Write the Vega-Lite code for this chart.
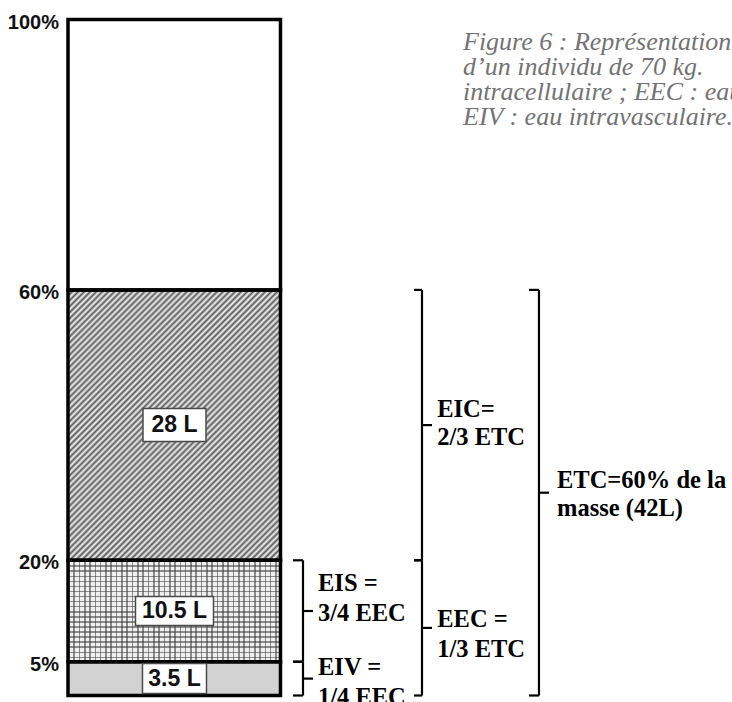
{
  "$schema": "https://vega.github.io/schema/vega-lite/v6.json",
  "width": 670,
  "height": 702,
  "padding": {"left": 62, "top": 0, "right": 0, "bottom": 0},
  "autosize": {"type": "none"},
  "background": "white",
  "config": {"view": {"stroke": null}, "font": "Liberation Sans"},
  "datasets": {
    "segments": [
      {"comp": "EIV", "lo": 0, "hi": 5, "volume": "3.5 L"},
      {"comp": "EIS", "lo": 5, "hi": 20, "volume": "10.5 L"},
      {"comp": "EIC", "lo": 20, "hi": 60, "volume": "28 L"},
      {"comp": "reste", "lo": 60, "hi": 100, "volume": ""}
    ],
    "brackets": [
      {"name": "EIV", "level": 1, "lo": 0, "hi": 5, "label": "EIV =\n1/4 EEC"},
      {"name": "EIS", "level": 1, "lo": 5, "hi": 20, "label": "EIS =\n3/4 EEC"},
      {"name": "EEC", "level": 2, "lo": 0, "hi": 20, "label": "EEC =\n1/3 ETC"},
      {"name": "EIC", "level": 2, "lo": 20, "hi": 60, "label": "EIC=\n2/3 ETC"},
      {"name": "ETC", "level": 3, "lo": 0, "hi": 60, "label": "ETC=60% de la\nmasse (42L)"}
    ]
  },
  "layer": [
    {
      "data": {"name": "segments"},
      "encoding": {
        "x": {"datum": 0.896, "type": "quantitative", "scale": {"domain": [0, 100], "nice": false, "zero": false}, "axis": null},
        "x2": {"datum": 32.61},
        "y": {"field": "lo", "type": "quantitative", "scale": {"domain": [-0.9615, 102.885], "nice": false, "zero": false}, "axis": null},
        "y2": {"field": "hi"}
      },
      "layer": [
        {"transform": [{"filter": "datum.comp === 'EIV'"}], "mark": {"type": "rect", "fill": "#d2d2d2", "strokeWidth": 0}},
        {"transform": [{"filter": "datum.comp === 'EIS'"}], "mark": {"type": "rect", "strokeWidth": 0, "fill": {"gradient": "linear", "x1": 0, "y1": 0, "x2": 1, "y2": 0, "stops": [
          {"offset": 0, "color": "#8c8c8c"}, {"offset": 0.0075, "color": "#8c8c8c"}, {"offset": 0.0075, "color": "#efefef"}, {"offset": 0.025, "color": "#efefef"},
          {"offset": 0.025, "color": "#8c8c8c"}, {"offset": 0.0325, "color": "#8c8c8c"}, {"offset": 0.0325, "color": "#efefef"}, {"offset": 0.05, "color": "#efefef"},
          {"offset": 0.05, "color": "#8c8c8c"}, {"offset": 0.0575, "color": "#8c8c8c"}, {"offset": 0.0575, "color": "#efefef"}, {"offset": 0.075, "color": "#efefef"},
          {"offset": 0.075, "color": "#8c8c8c"}, {"offset": 0.0825, "color": "#8c8c8c"}, {"offset": 0.0825, "color": "#efefef"}, {"offset": 0.1, "color": "#efefef"},
          {"offset": 0.1, "color": "#8c8c8c"}, {"offset": 0.1075, "color": "#8c8c8c"}, {"offset": 0.1075, "color": "#efefef"}, {"offset": 0.125, "color": "#efefef"},
          {"offset": 0.125, "color": "#8c8c8c"}, {"offset": 0.1325, "color": "#8c8c8c"}, {"offset": 0.1325, "color": "#efefef"}, {"offset": 0.15, "color": "#efefef"},
          {"offset": 0.15, "color": "#8c8c8c"}, {"offset": 0.1575, "color": "#8c8c8c"}, {"offset": 0.1575, "color": "#efefef"}, {"offset": 0.175, "color": "#efefef"},
          {"offset": 0.175, "color": "#8c8c8c"}, {"offset": 0.1825, "color": "#8c8c8c"}, {"offset": 0.1825, "color": "#efefef"}, {"offset": 0.2, "color": "#efefef"},
          {"offset": 0.2, "color": "#8c8c8c"}, {"offset": 0.2075, "color": "#8c8c8c"}, {"offset": 0.2075, "color": "#efefef"}, {"offset": 0.225, "color": "#efefef"},
          {"offset": 0.225, "color": "#8c8c8c"}, {"offset": 0.2325, "color": "#8c8c8c"}, {"offset": 0.2325, "color": "#efefef"}, {"offset": 0.25, "color": "#efefef"},
          {"offset": 0.25, "color": "#8c8c8c"}, {"offset": 0.2575, "color": "#8c8c8c"}, {"offset": 0.2575, "color": "#efefef"}, {"offset": 0.275, "color": "#efefef"},
          {"offset": 0.275, "color": "#8c8c8c"}, {"offset": 0.2825, "color": "#8c8c8c"}, {"offset": 0.2825, "color": "#efefef"}, {"offset": 0.3, "color": "#efefef"},
          {"offset": 0.3, "color": "#8c8c8c"}, {"offset": 0.3075, "color": "#8c8c8c"}, {"offset": 0.3075, "color": "#efefef"}, {"offset": 0.325, "color": "#efefef"},
          {"offset": 0.325, "color": "#8c8c8c"}, {"offset": 0.3325, "color": "#8c8c8c"}, {"offset": 0.3325, "color": "#efefef"}, {"offset": 0.35, "color": "#efefef"},
          {"offset": 0.35, "color": "#8c8c8c"}, {"offset": 0.3575, "color": "#8c8c8c"}, {"offset": 0.3575, "color": "#efefef"}, {"offset": 0.375, "color": "#efefef"},
          {"offset": 0.375, "color": "#8c8c8c"}, {"offset": 0.3825, "color": "#8c8c8c"}, {"offset": 0.3825, "color": "#efefef"}, {"offset": 0.4, "color": "#efefef"},
          {"offset": 0.4, "color": "#8c8c8c"}, {"offset": 0.4075, "color": "#8c8c8c"}, {"offset": 0.4075, "color": "#efefef"}, {"offset": 0.425, "color": "#efefef"},
          {"offset": 0.425, "color": "#8c8c8c"}, {"offset": 0.4325, "color": "#8c8c8c"}, {"offset": 0.4325, "color": "#efefef"}, {"offset": 0.45, "color": "#efefef"},
          {"offset": 0.45, "color": "#8c8c8c"}, {"offset": 0.4575, "color": "#8c8c8c"}, {"offset": 0.4575, "color": "#efefef"}, {"offset": 0.475, "color": "#efefef"},
          {"offset": 0.475, "color": "#8c8c8c"}, {"offset": 0.4825, "color": "#8c8c8c"}, {"offset": 0.4825, "color": "#efefef"}, {"offset": 0.5, "color": "#efefef"},
          {"offset": 0.5, "color": "#8c8c8c"}, {"offset": 0.5075, "color": "#8c8c8c"}, {"offset": 0.5075, "color": "#efefef"}, {"offset": 0.525, "color": "#efefef"},
          {"offset": 0.525, "color": "#8c8c8c"}, {"offset": 0.5325, "color": "#8c8c8c"}, {"offset": 0.5325, "color": "#efefef"}, {"offset": 0.55, "color": "#efefef"},
          {"offset": 0.55, "color": "#8c8c8c"}, {"offset": 0.5575, "color": "#8c8c8c"}, {"offset": 0.5575, "color": "#efefef"}, {"offset": 0.575, "color": "#efefef"},
          {"offset": 0.575, "color": "#8c8c8c"}, {"offset": 0.5825, "color": "#8c8c8c"}, {"offset": 0.5825, "color": "#efefef"}, {"offset": 0.6, "color": "#efefef"},
          {"offset": 0.6, "color": "#8c8c8c"}, {"offset": 0.6075, "color": "#8c8c8c"}, {"offset": 0.6075, "color": "#efefef"}, {"offset": 0.625, "color": "#efefef"},
          {"offset": 0.625, "color": "#8c8c8c"}, {"offset": 0.6325, "color": "#8c8c8c"}, {"offset": 0.6325, "color": "#efefef"}, {"offset": 0.65, "color": "#efefef"},
          {"offset": 0.65, "color": "#8c8c8c"}, {"offset": 0.6575, "color": "#8c8c8c"}, {"offset": 0.6575, "color": "#efefef"}, {"offset": 0.675, "color": "#efefef"},
          {"offset": 0.675, "color": "#8c8c8c"}, {"offset": 0.6825, "color": "#8c8c8c"}, {"offset": 0.6825, "color": "#efefef"}, {"offset": 0.7, "color": "#efefef"},
          {"offset": 0.7, "color": "#8c8c8c"}, {"offset": 0.7075, "color": "#8c8c8c"}, {"offset": 0.7075, "color": "#efefef"}, {"offset": 0.725, "color": "#efefef"},
          {"offset": 0.725, "color": "#8c8c8c"}, {"offset": 0.7325, "color": "#8c8c8c"}, {"offset": 0.7325, "color": "#efefef"}, {"offset": 0.75, "color": "#efefef"},
          {"offset": 0.75, "color": "#8c8c8c"}, {"offset": 0.7575, "color": "#8c8c8c"}, {"offset": 0.7575, "color": "#efefef"}, {"offset": 0.775, "color": "#efefef"},
          {"offset": 0.775, "color": "#8c8c8c"}, {"offset": 0.7825, "color": "#8c8c8c"}, {"offset": 0.7825, "color": "#efefef"}, {"offset": 0.8, "color": "#efefef"},
          {"offset": 0.8, "color": "#8c8c8c"}, {"offset": 0.8075, "color": "#8c8c8c"}, {"offset": 0.8075, "color": "#efefef"}, {"offset": 0.825, "color": "#efefef"},
          {"offset": 0.825, "color": "#8c8c8c"}, {"offset": 0.8325, "color": "#8c8c8c"}, {"offset": 0.8325, "color": "#efefef"}, {"offset": 0.85, "color": "#efefef"},
          {"offset": 0.85, "color": "#8c8c8c"}, {"offset": 0.8575, "color": "#8c8c8c"}, {"offset": 0.8575, "color": "#efefef"}, {"offset": 0.875, "color": "#efefef"},
          {"offset": 0.875, "color": "#8c8c8c"}, {"offset": 0.8825, "color": "#8c8c8c"}, {"offset": 0.8825, "color": "#efefef"}, {"offset": 0.9, "color": "#efefef"},
          {"offset": 0.9, "color": "#8c8c8c"}, {"offset": 0.9075, "color": "#8c8c8c"}, {"offset": 0.9075, "color": "#efefef"}, {"offset": 0.925, "color": "#efefef"},
          {"offset": 0.925, "color": "#8c8c8c"}, {"offset": 0.9325, "color": "#8c8c8c"}, {"offset": 0.9325, "color": "#efefef"}, {"offset": 0.95, "color": "#efefef"},
          {"offset": 0.95, "color": "#8c8c8c"}, {"offset": 0.9575, "color": "#8c8c8c"}, {"offset": 0.9575, "color": "#efefef"}, {"offset": 0.975, "color": "#efefef"},
          {"offset": 0.975, "color": "#8c8c8c"}, {"offset": 0.9825, "color": "#8c8c8c"}, {"offset": 0.9825, "color": "#efefef"}, {"offset": 1, "color": "#efefef"}
        ]}}},
        {"transform": [{"filter": "datum.comp === 'EIS'"}], "mark": {"type": "rect", "strokeWidth": 0, "fill": {"gradient": "linear", "x1": 0, "y1": 0, "x2": 0, "y2": 1, "stops": [
          {"offset": 0, "color": "rgba(60,60,60,0.55)"}, {"offset": 0.015, "color": "rgba(60,60,60,0.55)"}, {"offset": 0.015, "color": "rgba(60,60,60,0)"}, {"offset": 0.05, "color": "rgba(60,60,60,0)"},
          {"offset": 0.05, "color": "rgba(60,60,60,0.55)"}, {"offset": 0.065, "color": "rgba(60,60,60,0.55)"}, {"offset": 0.065, "color": "rgba(60,60,60,0)"}, {"offset": 0.1, "color": "rgba(60,60,60,0)"},
          {"offset": 0.1, "color": "rgba(60,60,60,0.55)"}, {"offset": 0.115, "color": "rgba(60,60,60,0.55)"}, {"offset": 0.115, "color": "rgba(60,60,60,0)"}, {"offset": 0.15, "color": "rgba(60,60,60,0)"},
          {"offset": 0.15, "color": "rgba(60,60,60,0.55)"}, {"offset": 0.165, "color": "rgba(60,60,60,0.55)"}, {"offset": 0.165, "color": "rgba(60,60,60,0)"}, {"offset": 0.2, "color": "rgba(60,60,60,0)"},
          {"offset": 0.2, "color": "rgba(60,60,60,0.55)"}, {"offset": 0.215, "color": "rgba(60,60,60,0.55)"}, {"offset": 0.215, "color": "rgba(60,60,60,0)"}, {"offset": 0.25, "color": "rgba(60,60,60,0)"},
          {"offset": 0.25, "color": "rgba(60,60,60,0.55)"}, {"offset": 0.265, "color": "rgba(60,60,60,0.55)"}, {"offset": 0.265, "color": "rgba(60,60,60,0)"}, {"offset": 0.3, "color": "rgba(60,60,60,0)"},
          {"offset": 0.3, "color": "rgba(60,60,60,0.55)"}, {"offset": 0.315, "color": "rgba(60,60,60,0.55)"}, {"offset": 0.315, "color": "rgba(60,60,60,0)"}, {"offset": 0.35, "color": "rgba(60,60,60,0)"},
          {"offset": 0.35, "color": "rgba(60,60,60,0.55)"}, {"offset": 0.365, "color": "rgba(60,60,60,0.55)"}, {"offset": 0.365, "color": "rgba(60,60,60,0)"}, {"offset": 0.4, "color": "rgba(60,60,60,0)"},
          {"offset": 0.4, "color": "rgba(60,60,60,0.55)"}, {"offset": 0.415, "color": "rgba(60,60,60,0.55)"}, {"offset": 0.415, "color": "rgba(60,60,60,0)"}, {"offset": 0.45, "color": "rgba(60,60,60,0)"},
          {"offset": 0.45, "color": "rgba(60,60,60,0.55)"}, {"offset": 0.465, "color": "rgba(60,60,60,0.55)"}, {"offset": 0.465, "color": "rgba(60,60,60,0)"}, {"offset": 0.5, "color": "rgba(60,60,60,0)"},
          {"offset": 0.5, "color": "rgba(60,60,60,0.55)"}, {"offset": 0.515, "color": "rgba(60,60,60,0.55)"}, {"offset": 0.515, "color": "rgba(60,60,60,0)"}, {"offset": 0.55, "color": "rgba(60,60,60,0)"},
          {"offset": 0.55, "color": "rgba(60,60,60,0.55)"}, {"offset": 0.565, "color": "rgba(60,60,60,0.55)"}, {"offset": 0.565, "color": "rgba(60,60,60,0)"}, {"offset": 0.6, "color": "rgba(60,60,60,0)"},
          {"offset": 0.6, "color": "rgba(60,60,60,0.55)"}, {"offset": 0.615, "color": "rgba(60,60,60,0.55)"}, {"offset": 0.615, "color": "rgba(60,60,60,0)"}, {"offset": 0.65, "color": "rgba(60,60,60,0)"},
          {"offset": 0.65, "color": "rgba(60,60,60,0.55)"}, {"offset": 0.665, "color": "rgba(60,60,60,0.55)"}, {"offset": 0.665, "color": "rgba(60,60,60,0)"}, {"offset": 0.7, "color": "rgba(60,60,60,0)"},
          {"offset": 0.7, "color": "rgba(60,60,60,0.55)"}, {"offset": 0.715, "color": "rgba(60,60,60,0.55)"}, {"offset": 0.715, "color": "rgba(60,60,60,0)"}, {"offset": 0.75, "color": "rgba(60,60,60,0)"},
          {"offset": 0.75, "color": "rgba(60,60,60,0.55)"}, {"offset": 0.765, "color": "rgba(60,60,60,0.55)"}, {"offset": 0.765, "color": "rgba(60,60,60,0)"}, {"offset": 0.8, "color": "rgba(60,60,60,0)"},
          {"offset": 0.8, "color": "rgba(60,60,60,0.55)"}, {"offset": 0.815, "color": "rgba(60,60,60,0.55)"}, {"offset": 0.815, "color": "rgba(60,60,60,0)"}, {"offset": 0.85, "color": "rgba(60,60,60,0)"},
          {"offset": 0.85, "color": "rgba(60,60,60,0.55)"}, {"offset": 0.865, "color": "rgba(60,60,60,0.55)"}, {"offset": 0.865, "color": "rgba(60,60,60,0)"}, {"offset": 0.9, "color": "rgba(60,60,60,0)"},
          {"offset": 0.9, "color": "rgba(60,60,60,0.55)"}, {"offset": 0.915, "color": "rgba(60,60,60,0.55)"}, {"offset": 0.915, "color": "rgba(60,60,60,0)"}, {"offset": 0.95, "color": "rgba(60,60,60,0)"},
          {"offset": 0.95, "color": "rgba(60,60,60,0.55)"}, {"offset": 0.965, "color": "rgba(60,60,60,0.55)"}, {"offset": 0.965, "color": "rgba(60,60,60,0)"}, {"offset": 1, "color": "rgba(60,60,60,0)"}
        ]}}},
        {"transform": [{"filter": "datum.comp === 'EIC'"}], "mark": {"type": "rect", "strokeWidth": 0, "fill": {"gradient": "linear", "x1": 0, "y1": 0, "x2": 0.869, "y2": 1.104, "stops": [
          {"offset": 0, "color": "#5c5c5c"}, {"offset": 0.00625, "color": "#f2f2f2"}, {"offset": 0.0125, "color": "#5c5c5c"}, {"offset": 0.01875, "color": "#f2f2f2"}, {"offset": 0.025, "color": "#5c5c5c"}, {"offset": 0.03125, "color": "#f2f2f2"}, {"offset": 0.0375, "color": "#5c5c5c"}, {"offset": 0.04375, "color": "#f2f2f2"},
          {"offset": 0.05, "color": "#5c5c5c"}, {"offset": 0.05625, "color": "#f2f2f2"}, {"offset": 0.0625, "color": "#5c5c5c"}, {"offset": 0.06875, "color": "#f2f2f2"}, {"offset": 0.075, "color": "#5c5c5c"}, {"offset": 0.08125, "color": "#f2f2f2"}, {"offset": 0.0875, "color": "#5c5c5c"}, {"offset": 0.09375, "color": "#f2f2f2"},
          {"offset": 0.1, "color": "#5c5c5c"}, {"offset": 0.10625, "color": "#f2f2f2"}, {"offset": 0.1125, "color": "#5c5c5c"}, {"offset": 0.11875, "color": "#f2f2f2"}, {"offset": 0.125, "color": "#5c5c5c"}, {"offset": 0.13125, "color": "#f2f2f2"}, {"offset": 0.1375, "color": "#5c5c5c"}, {"offset": 0.14375, "color": "#f2f2f2"},
          {"offset": 0.15, "color": "#5c5c5c"}, {"offset": 0.15625, "color": "#f2f2f2"}, {"offset": 0.1625, "color": "#5c5c5c"}, {"offset": 0.16875, "color": "#f2f2f2"}, {"offset": 0.175, "color": "#5c5c5c"}, {"offset": 0.18125, "color": "#f2f2f2"}, {"offset": 0.1875, "color": "#5c5c5c"}, {"offset": 0.19375, "color": "#f2f2f2"},
          {"offset": 0.2, "color": "#5c5c5c"}, {"offset": 0.20625, "color": "#f2f2f2"}, {"offset": 0.2125, "color": "#5c5c5c"}, {"offset": 0.21875, "color": "#f2f2f2"}, {"offset": 0.225, "color": "#5c5c5c"}, {"offset": 0.23125, "color": "#f2f2f2"}, {"offset": 0.2375, "color": "#5c5c5c"}, {"offset": 0.24375, "color": "#f2f2f2"},
          {"offset": 0.25, "color": "#5c5c5c"}, {"offset": 0.25625, "color": "#f2f2f2"}, {"offset": 0.2625, "color": "#5c5c5c"}, {"offset": 0.26875, "color": "#f2f2f2"}, {"offset": 0.275, "color": "#5c5c5c"}, {"offset": 0.28125, "color": "#f2f2f2"}, {"offset": 0.2875, "color": "#5c5c5c"}, {"offset": 0.29375, "color": "#f2f2f2"},
          {"offset": 0.3, "color": "#5c5c5c"}, {"offset": 0.30625, "color": "#f2f2f2"}, {"offset": 0.3125, "color": "#5c5c5c"}, {"offset": 0.31875, "color": "#f2f2f2"}, {"offset": 0.325, "color": "#5c5c5c"}, {"offset": 0.33125, "color": "#f2f2f2"}, {"offset": 0.3375, "color": "#5c5c5c"}, {"offset": 0.34375, "color": "#f2f2f2"},
          {"offset": 0.35, "color": "#5c5c5c"}, {"offset": 0.35625, "color": "#f2f2f2"}, {"offset": 0.3625, "color": "#5c5c5c"}, {"offset": 0.36875, "color": "#f2f2f2"}, {"offset": 0.375, "color": "#5c5c5c"}, {"offset": 0.38125, "color": "#f2f2f2"}, {"offset": 0.3875, "color": "#5c5c5c"}, {"offset": 0.39375, "color": "#f2f2f2"},
          {"offset": 0.4, "color": "#5c5c5c"}, {"offset": 0.40625, "color": "#f2f2f2"}, {"offset": 0.4125, "color": "#5c5c5c"}, {"offset": 0.41875, "color": "#f2f2f2"}, {"offset": 0.425, "color": "#5c5c5c"}, {"offset": 0.43125, "color": "#f2f2f2"}, {"offset": 0.4375, "color": "#5c5c5c"}, {"offset": 0.44375, "color": "#f2f2f2"},
          {"offset": 0.45, "color": "#5c5c5c"}, {"offset": 0.45625, "color": "#f2f2f2"}, {"offset": 0.4625, "color": "#5c5c5c"}, {"offset": 0.46875, "color": "#f2f2f2"}, {"offset": 0.475, "color": "#5c5c5c"}, {"offset": 0.48125, "color": "#f2f2f2"}, {"offset": 0.4875, "color": "#5c5c5c"}, {"offset": 0.49375, "color": "#f2f2f2"},
          {"offset": 0.5, "color": "#5c5c5c"}, {"offset": 0.50625, "color": "#f2f2f2"}, {"offset": 0.5125, "color": "#5c5c5c"}, {"offset": 0.51875, "color": "#f2f2f2"}, {"offset": 0.525, "color": "#5c5c5c"}, {"offset": 0.53125, "color": "#f2f2f2"}, {"offset": 0.5375, "color": "#5c5c5c"}, {"offset": 0.54375, "color": "#f2f2f2"},
          {"offset": 0.55, "color": "#5c5c5c"}, {"offset": 0.55625, "color": "#f2f2f2"}, {"offset": 0.5625, "color": "#5c5c5c"}, {"offset": 0.56875, "color": "#f2f2f2"}, {"offset": 0.575, "color": "#5c5c5c"}, {"offset": 0.58125, "color": "#f2f2f2"}, {"offset": 0.5875, "color": "#5c5c5c"}, {"offset": 0.59375, "color": "#f2f2f2"},
          {"offset": 0.6, "color": "#5c5c5c"}, {"offset": 0.60625, "color": "#f2f2f2"}, {"offset": 0.6125, "color": "#5c5c5c"}, {"offset": 0.61875, "color": "#f2f2f2"}, {"offset": 0.625, "color": "#5c5c5c"}, {"offset": 0.63125, "color": "#f2f2f2"}, {"offset": 0.6375, "color": "#5c5c5c"}, {"offset": 0.64375, "color": "#f2f2f2"},
          {"offset": 0.65, "color": "#5c5c5c"}, {"offset": 0.65625, "color": "#f2f2f2"}, {"offset": 0.6625, "color": "#5c5c5c"}, {"offset": 0.66875, "color": "#f2f2f2"}, {"offset": 0.675, "color": "#5c5c5c"}, {"offset": 0.68125, "color": "#f2f2f2"}, {"offset": 0.6875, "color": "#5c5c5c"}, {"offset": 0.69375, "color": "#f2f2f2"},
          {"offset": 0.7, "color": "#5c5c5c"}, {"offset": 0.70625, "color": "#f2f2f2"}, {"offset": 0.7125, "color": "#5c5c5c"}, {"offset": 0.71875, "color": "#f2f2f2"}, {"offset": 0.725, "color": "#5c5c5c"}, {"offset": 0.73125, "color": "#f2f2f2"}, {"offset": 0.7375, "color": "#5c5c5c"}, {"offset": 0.74375, "color": "#f2f2f2"},
          {"offset": 0.75, "color": "#5c5c5c"}, {"offset": 0.75625, "color": "#f2f2f2"}, {"offset": 0.7625, "color": "#5c5c5c"}, {"offset": 0.76875, "color": "#f2f2f2"}, {"offset": 0.775, "color": "#5c5c5c"}, {"offset": 0.78125, "color": "#f2f2f2"}, {"offset": 0.7875, "color": "#5c5c5c"}, {"offset": 0.79375, "color": "#f2f2f2"},
          {"offset": 0.8, "color": "#5c5c5c"}, {"offset": 0.80625, "color": "#f2f2f2"}, {"offset": 0.8125, "color": "#5c5c5c"}, {"offset": 0.81875, "color": "#f2f2f2"}, {"offset": 0.825, "color": "#5c5c5c"}, {"offset": 0.83125, "color": "#f2f2f2"}, {"offset": 0.8375, "color": "#5c5c5c"}, {"offset": 0.84375, "color": "#f2f2f2"},
          {"offset": 0.85, "color": "#5c5c5c"}, {"offset": 0.85625, "color": "#f2f2f2"}, {"offset": 0.8625, "color": "#5c5c5c"}, {"offset": 0.86875, "color": "#f2f2f2"}, {"offset": 0.875, "color": "#5c5c5c"}, {"offset": 0.88125, "color": "#f2f2f2"}, {"offset": 0.8875, "color": "#5c5c5c"}, {"offset": 0.89375, "color": "#f2f2f2"},
          {"offset": 0.9, "color": "#5c5c5c"}, {"offset": 0.90625, "color": "#f2f2f2"}, {"offset": 0.9125, "color": "#5c5c5c"}, {"offset": 0.91875, "color": "#f2f2f2"}, {"offset": 0.925, "color": "#5c5c5c"}, {"offset": 0.93125, "color": "#f2f2f2"}, {"offset": 0.9375, "color": "#5c5c5c"}, {"offset": 0.94375, "color": "#f2f2f2"},
          {"offset": 0.95, "color": "#5c5c5c"}, {"offset": 0.95625, "color": "#f2f2f2"}, {"offset": 0.9625, "color": "#5c5c5c"}, {"offset": 0.96875, "color": "#f2f2f2"}, {"offset": 0.975, "color": "#5c5c5c"}, {"offset": 0.98125, "color": "#f2f2f2"}, {"offset": 0.9875, "color": "#5c5c5c"}, {"offset": 0.99375, "color": "#f2f2f2"},
          {"offset": 1, "color": "#5c5c5c"}
        ]}}},
        {"mark": {"type": "rect", "fill": "white", "fillOpacity": 0, "stroke": "black", "strokeWidth": 3.5}}
      ]
    },
    {
      "data": {"name": "segments"},
      "transform": [{"calculate": "datum.hi + '%'", "as": "pct"}],
      "mark": {"type": "text", "align": "right", "baseline": "middle", "dy": 3, "font": "Liberation Sans", "fontWeight": "bold", "fontSize": 20, "color": "#111111"},
      "encoding": {
        "x": {"datum": -0.448},
        "y": {"field": "hi", "type": "quantitative", "axis": null},
        "text": {"field": "pct", "type": "nominal"}
      }
    },
    {
      "data": {"name": "segments"},
      "transform": [
        {"filter": "datum.volume !== ''"},
        {"calculate": "(datum.lo + datum.hi) / 2", "as": "mid"}
      ],
      "layer": [
        {
          "mark": {"type": "point", "filled": true, "fill": "white", "stroke": "#4a4a4a", "strokeWidth": 1.5, "opacity": 1},
          "encoding": {
            "x": {"datum": 16.79},
            "y": {"field": "mid", "type": "quantitative", "axis": null},
            "shape": {
              "condition": [
                {"test": "datum.comp === 'EIC'", "value": "M-1,-0.524H1V0.524H-1Z"},
                {"test": "datum.comp === 'EIS'", "value": "M-1,-0.372H1V0.372H-1Z"}
              ],
              "value": "M-1,-0.469H1V0.469H-1Z"
            },
            "size": {
              "condition": [
                {"test": "datum.comp === 'EIC'", "value": 3969},
                {"test": "datum.comp === 'EIS'", "value": 6084}
              ],
              "value": 4096
            }
          }
        },
        {
          "mark": {"type": "text", "font": "Liberation Sans", "fontWeight": "bold", "fontSize": 23, "align": "center", "baseline": "middle", "color": "#111111"},
          "encoding": {
            "x": {"datum": 16.79},
            "y": {"field": "mid", "type": "quantitative", "axis": null},
            "text": {"field": "volume", "type": "nominal"}
          }
        }
      ]
    },
    {
      "data": {"name": "brackets"},
      "transform": [{"calculate": "(datum.lo + datum.hi) / 2", "as": "mid"}],
      "layer": [
        {
          "transform": [{"filter": "datum.level === 1"}],
          "layer": [
            {"mark": {"type": "rule", "color": "black", "strokeWidth": 2.2},
             "encoding": {"x": {"datum": 35.97}, "y": {"field": "lo", "type": "quantitative", "axis": null}, "y2": {"field": "hi"}}},
            {"mark": {"type": "rule", "color": "black", "strokeWidth": 2.2},
             "encoding": {"x": {"datum": 34.48}, "x2": {"datum": 35.97}, "y": {"field": "hi", "type": "quantitative", "axis": null}}},
            {"mark": {"type": "rule", "color": "black", "strokeWidth": 2.2},
             "encoding": {"x": {"datum": 34.48}, "x2": {"datum": 35.97}, "y": {"field": "lo", "type": "quantitative", "axis": null}}},
            {"mark": {"type": "rule", "color": "black", "strokeWidth": 2.2},
             "encoding": {"x": {"datum": 35.97}, "x2": {"datum": 37.46}, "y": {"field": "mid", "type": "quantitative", "axis": null}}},
            {"transform": [{"filter": "datum.name === 'EIV'"}],
             "mark": {"type": "text", "font": "Liberation Serif", "fontWeight": "bold", "fontSize": 24.5, "lineHeight": 30, "lineBreak": "\n", "align": "left", "baseline": "middle", "color": "black", "dy": -11},
             "encoding": {"x": {"datum": 38.21}, "y": {"field": "mid", "type": "quantitative", "axis": null}, "text": {"field": "label", "type": "nominal"}}},
            {"transform": [{"filter": "datum.name === 'EIS'"}],
             "mark": {"type": "text", "font": "Liberation Serif", "fontWeight": "bold", "fontSize": 24.5, "lineHeight": 30, "lineBreak": "\n", "align": "left", "baseline": "middle", "color": "black", "dy": -27.5},
             "encoding": {"x": {"datum": 38.21}, "y": {"field": "mid", "type": "quantitative", "axis": null}, "text": {"field": "label", "type": "nominal"}}}
          ]
        },
        {
          "transform": [{"filter": "datum.level === 2"}],
          "layer": [
            {"mark": {"type": "rule", "color": "black", "strokeWidth": 2.2},
             "encoding": {"x": {"datum": 53.73}, "y": {"field": "lo", "type": "quantitative", "axis": null}, "y2": {"field": "hi"}}},
            {"mark": {"type": "rule", "color": "black", "strokeWidth": 2.2},
             "encoding": {"x": {"datum": 52.54}, "x2": {"datum": 53.73}, "y": {"field": "hi", "type": "quantitative", "axis": null}}},
            {"mark": {"type": "rule", "color": "black", "strokeWidth": 2.2},
             "encoding": {"x": {"datum": 52.54}, "x2": {"datum": 53.73}, "y": {"field": "lo", "type": "quantitative", "axis": null}}},
            {"mark": {"type": "rule", "color": "black", "strokeWidth": 2.2},
             "encoding": {"x": {"datum": 53.73}, "x2": {"datum": 55.22}, "y": {"field": "mid", "type": "quantitative", "axis": null}}},
            {"transform": [{"filter": "datum.name === 'EEC'"}],
             "mark": {"type": "text", "font": "Liberation Serif", "fontWeight": "bold", "fontSize": 24.5, "lineHeight": 30, "lineBreak": "\n", "align": "left", "baseline": "middle", "color": "black", "dy": -8},
             "encoding": {"x": {"datum": 56.0}, "y": {"field": "mid", "type": "quantitative", "axis": null}, "text": {"field": "label", "type": "nominal"}}},
            {"transform": [{"filter": "datum.name === 'EIC'"}],
             "mark": {"type": "text", "font": "Liberation Serif", "fontWeight": "bold", "fontSize": 24.5, "lineHeight": 28, "lineBreak": "\n", "align": "left", "baseline": "middle", "color": "black", "dy": -15},
             "encoding": {"x": {"datum": 56.0}, "y": {"field": "mid", "type": "quantitative", "axis": null}, "text": {"field": "label", "type": "nominal"}}}
          ]
        },
        {
          "transform": [{"filter": "datum.level === 3"}],
          "layer": [
            {"mark": {"type": "rule", "color": "black", "strokeWidth": 2.2},
             "encoding": {"x": {"datum": 71.19}, "y": {"field": "lo", "type": "quantitative", "axis": null}, "y2": {"field": "hi"}}},
            {"mark": {"type": "rule", "color": "black", "strokeWidth": 2.2},
             "encoding": {"x": {"datum": 69.7}, "x2": {"datum": 71.19}, "y": {"field": "hi", "type": "quantitative", "axis": null}}},
            {"mark": {"type": "rule", "color": "black", "strokeWidth": 2.2},
             "encoding": {"x": {"datum": 69.7}, "x2": {"datum": 71.19}, "y": {"field": "lo", "type": "quantitative", "axis": null}}},
            {"mark": {"type": "rule", "color": "black", "strokeWidth": 2.2},
             "encoding": {"x": {"datum": 71.19}, "x2": {"datum": 72.69}, "y": {"field": "mid", "type": "quantitative", "axis": null}}},
            {"mark": {"type": "text", "font": "Liberation Serif", "fontWeight": "bold", "fontSize": 24.5, "lineHeight": 28, "lineBreak": "\n", "align": "left", "baseline": "middle", "color": "black", "dy": -12},
             "encoding": {"x": {"datum": 73.88}, "y": {"field": "mid", "type": "quantitative", "axis": null}, "text": {"field": "label", "type": "nominal"}}}
          ]
        }
      ]
    },
    {
      "data": {"values": [{"caption": "Figure 6 : Représentation des compartiments hydriques\nd’un individu de 70 kg.\nintracellulaire ; EEC : eau extracellulaire ; EIS : eau interstitielle ;\nEIV : eau intravasculaire."}]},
      "mark": {"type": "text", "font": "Liberation Serif", "fontStyle": "italic", "fontSize": 26, "lineHeight": 25, "lineBreak": "\n", "align": "left", "baseline": "alphabetic", "color": "#737373"},
      "encoding": {
        "x": {"datum": 59.85},
        "y": {"datum": 95.49, "type": "quantitative", "axis": null},
        "text": {"field": "caption", "type": "nominal"}
      }
    }
  ]
}
